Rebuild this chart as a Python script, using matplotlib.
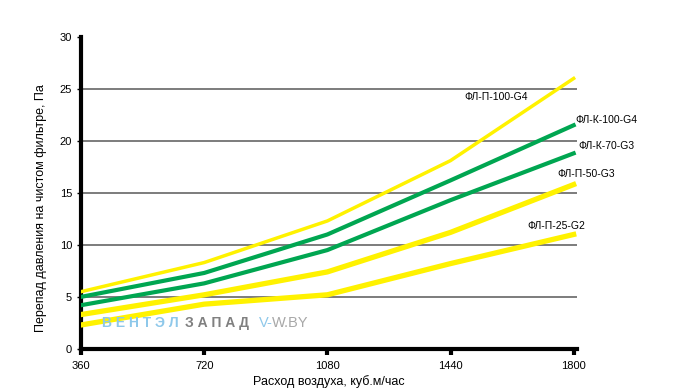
import numpy as np
import matplotlib.pyplot as plt

# air flow, m3/h
flow = [360, 720, 1080, 1440, 1800]

# pressure drop on clean filter, Pa
p100_g4 = [5.5, 8.3, 12.3, 18.1, 26.0]
k100_g4 = [5.0, 7.3, 11.0, 16.2, 21.5]
k70_g3 = [4.2, 6.3, 9.5, 14.3, 18.8]
p50_g3 = [3.3, 5.2, 7.4, 11.2, 15.8]
p25_g2 = [2.3, 4.3, 5.2, 8.2, 11.0]

names = ["ФЛ-П-100-G4", "ФЛ-К-100-G4", "ФЛ-К-70-G3", "ФЛ-П-50-G3", "ФЛ-П-25-G2"]

yellow = "#fff200"
green = "#00a651"

plt.rcParams['font.family'] = ['Liberation Sans', 'DejaVu Sans']

fig = plt.figure(figsize=(6.87, 3.92), dpi=100)
ax = fig.add_axes([0.118, 0.110, 0.722, 0.796])

# horizontal grid lines
for yv in [5, 10, 15, 20, 25]:
    ax.axhline(yv, color="#666666", lw=1.2, zorder=1)

ax.plot(flow, p25_g2, color=yellow, lw=3.8, zorder=3)
ax.plot(flow, p50_g3, color=yellow, lw=3.8, zorder=3)
ax.plot(flow, k70_g3, color=green, lw=3.0, zorder=3)
ax.plot(flow, k100_g4, color=green, lw=3.0, zorder=3)
ax.plot(flow, p100_g4, color=yellow, lw=2.5, zorder=3)

# curve labels
ax.text(1481, 24.2, names[0], fontsize=7.5, va="center")
ax.text(1806, 22.0, names[1], fontsize=7.5, va="center")
ax.text(1815, 19.5, names[2], fontsize=7.5, va="center")
ax.text(1751, 16.8, names[3], fontsize=7.5, va="center")
ax.text(1664, 11.8, names[4], fontsize=7.5, va="center")

# watermark
ax.text(421, 2.5, "В Е Н Т Э Л", color="#8ec8ea", fontsize=10, fontweight="bold", va="center")
ax.text(665, 2.5, "З А П А Д", color="#808080", fontsize=10, fontweight="bold", va="center")
ax.text(880, 2.5, "V-", color="#8ec8ea", fontsize=10.5, va="center")
ax.text(918, 2.5, "W.BY", color="#a8a8a8", fontsize=10.5, va="center")

ax.set_xlim(360, 1810)
ax.set_ylim(0, 30)
ax.set_xticks(flow)
ax.set_yticks([0, 5, 10, 15, 20, 25, 30])
ax.tick_params(axis="x", length=4, width=3, labelsize=8, pad=5)
ax.tick_params(axis="y", length=3, width=1, labelsize=8)

for s in ["top", "right"]:
    ax.spines[s].set_visible(False)
for s in ["left", "bottom"]:
    ax.spines[s].set_linewidth(3)

ax.set_xlabel("Расход воздуха, куб.м/час", fontsize=9, labelpad=3)
ax.set_ylabel("Перепад давления на чистом фильтре, Па", fontsize=9)
ax.yaxis.set_label_coords(-0.068, 0.45)

plt.savefig("out.png", dpi=100)
